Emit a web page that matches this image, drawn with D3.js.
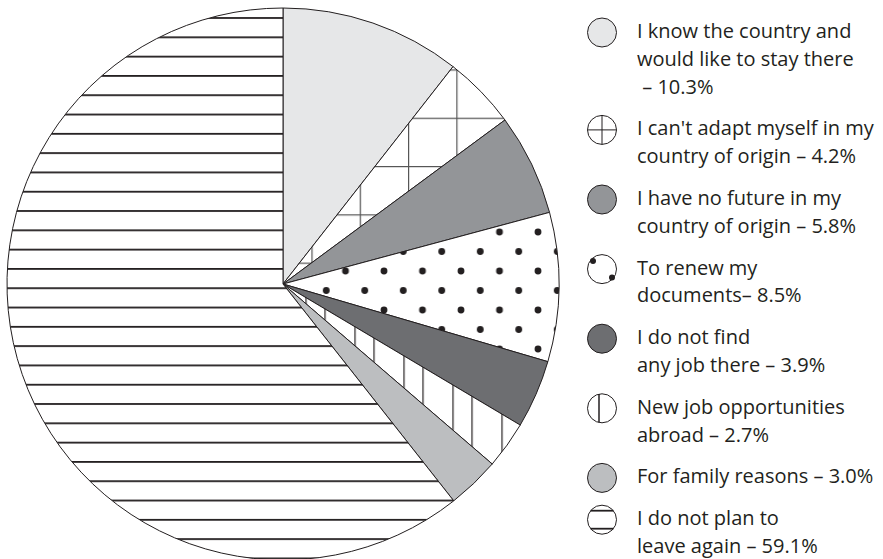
<!DOCTYPE html>
<html>
<head>
<meta charset="utf-8">
<script src="https://cdn.jsdelivr.net/npm/d3@7.8.5/dist/d3.min.js"></script>
<style>
  html, body { margin: 0; padding: 0; background: #fff; }
  svg { display: block; }
</style>
</head>
<body>
<div id="chart"></div>
<script>
// ── Data ──────────────────────────────────────────────────────────────────
const LABELS = [
  ["I know the country and", "would like to stay there", " – 10.3%"],
  ["I can't adapt myself in my", "country of origin – 4.2%"],
  ["I have no future in my", "country of origin – 5.8%"],
  ["To renew my", "documents– 8.5%"],
  ["I do not find", "any job there – 3.9%"],
  ["New job opportunities", "abroad – 2.7%"],
  ["For family reasons – 3.0%"],
  ["I do not plan to", "leave again – 59.1%"],
];
const VALUES = [10.3, 4.2, 5.8, 8.5, 3.9, 2.7, 3.0, 59.1];
const FILLS = ["#e6e7e8", "url(#p-grid)", "#939598", "url(#p-dots)", "#6d6e71", "url(#p-vert)", "#bcbec0", "url(#p-horiz)"];
const ICONS = ["plain", "cross", "plain", "dots", "plain", "vline", "plain", "hlines"];
const ICON_FILLS = ["#e6e7e8", "#fff", "#939598", "#fff", "#6d6e71", "#fff", "#bcbec0", "#fff"];

const W = 883, H = 559;
const CX = 283, CY = 284, R = 276;
const INK = "#231f20";
const LEG_X = 602, TXT_X = 637, LEG_Y0 = 38, LINE_H = 27.8, ITEM_GAP = 14;

const svg = d3.select("#chart").append("svg").attr("width", W).attr("height", H);
const defs = svg.append("defs");

// ── Patterns (user space of the translated pie group) ─────────────────────
const grid = defs.append("pattern").attr("id", "p-grid").attr("patternUnits", "userSpaceOnUse")
  .attr("width", 48.3).attr("height", 48.3)
  .attr("x", 312 - CX - 0.6).attr("y", 70 - CY - 0.6);
grid.append("rect").attr("width", 48.3).attr("height", 48.3).attr("fill", "#fff");
grid.append("rect").attr("width", 1.2).attr("height", 48.3).attr("fill", "#555");
grid.append("rect").attr("width", 48.3).attr("height", 1.2).attr("fill", "#555");

const dots = defs.append("pattern").attr("id", "p-dots").attr("patternUnits", "userSpaceOnUse")
  .attr("width", 38.5).attr("height", 39)
  .attr("x", 384 - CX).attr("y", 271 - CY);
dots.append("rect").attr("width", 38.5).attr("height", 39).attr("fill", "#fff");
[[0, 0], [38.5, 0], [0, 39], [38.5, 39], [19.25, 19.5]].forEach(([x, y]) =>
  dots.append("circle").attr("cx", x).attr("cy", y).attr("r", 3.4).attr("fill", INK));

const vert = defs.append("pattern").attr("id", "p-vert").attr("patternUnits", "userSpaceOnUse")
  .attr("width", 49).attr("height", 20)
  .attr("x", 306 - CX - 0.6).attr("y", 0);
vert.append("rect").attr("width", 49).attr("height", 20).attr("fill", "#fff");
vert.append("rect").attr("x", 0).attr("width", 1.2).attr("height", 20).attr("fill", INK);
vert.append("rect").attr("x", 19).attr("width", 1.2).attr("height", 20).attr("fill", INK);

const horiz = defs.append("pattern").attr("id", "p-horiz").attr("patternUnits", "userSpaceOnUse")
  .attr("width", 20).attr("height", 19.3)
  .attr("x", 0).attr("y", 18 - CY - 0.9);
horiz.append("rect").attr("width", 20).attr("height", 19.3).attr("fill", "#fff");
horiz.append("rect").attr("width", 20).attr("height", 1.8).attr("fill", INK);

// ── Pie ───────────────────────────────────────────────────────────────────
const pie = d3.pie().sort(null).value((d) => d);
const arc = d3.arc().innerRadius(0).outerRadius(R);

const g = svg.append("g").attr("transform", `translate(${CX},${CY})`);
g.selectAll("path")
  .data(pie(VALUES))
  .join("path")
  .attr("d", arc)
  .attr("fill", (d, i) => FILLS[i])
  .attr("stroke", INK)
  .attr("stroke-width", 1)
  .attr("stroke-linejoin", "round");

// ── Legend ────────────────────────────────────────────────────────────────
const IR = 14.5;
let linesBefore = 0;
LABELS.forEach((lines, i) => {
  const base = LEG_Y0 + linesBefore * LINE_H + i * ITEM_GAP;
  linesBefore += lines.length;
  const cy = base - 5.5;
  const lg = svg.append("g").attr("transform", `translate(${LEG_X},${cy})`);
  lg.append("circle").attr("r", IR).attr("fill", ICON_FILLS[i]).attr("stroke", INK).attr("stroke-width", 1);
  const type = ICONS[i];
  if (type === "cross") {
    lg.append("path").attr("d", `M${-IR},0H${IR}M0,${-IR}V${IR}`).attr("stroke", INK).attr("stroke-width", 1);
  } else if (type === "dots") {
    lg.append("circle").attr("cx", -9).attr("cy", -8).attr("r", 3).attr("fill", INK);
    lg.append("circle").attr("cx", 10).attr("cy", 8.5).attr("r", 3).attr("fill", INK);
  } else if (type === "vline") {
    const x = -3, h = Math.sqrt(IR * IR - x * x);
    lg.append("path").attr("d", `M${x},${-h}V${h}`).attr("stroke", INK).attr("stroke-width", 1.5);
  } else if (type === "hlines") {
    [-9, 9].forEach((y) => {
      const w = Math.sqrt(IR * IR - y * y);
      lg.append("path").attr("d", `M${-w},${y}H${w}`).attr("stroke", INK).attr("stroke-width", 1.8);
    });
  }

  const t = svg.append("text")
    .attr("x", TXT_X)
    .attr("y", base)
    .style("font-family", "'Open Sans', 'Noto Sans', sans-serif")
    .style("font-size", "20px")
    .style("fill", INK);
  lines.forEach((ln, j) => {
    t.append("tspan").attr("x", TXT_X).attr("y", base + j * LINE_H).attr("xml:space", "preserve").text(ln);
  });
});
</script>
</body>
</html>
